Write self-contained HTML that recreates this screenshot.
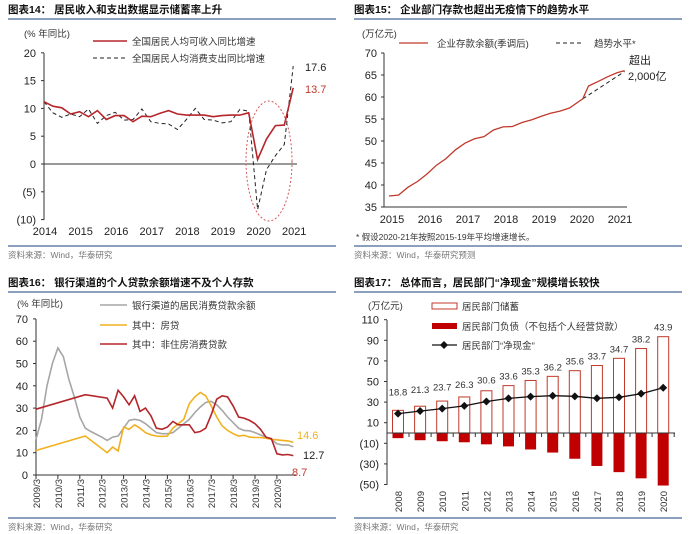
<!DOCTYPE html>
<html><head><meta charset="utf-8"><style>
body{margin:0;background:#fff}
svg{display:block;font-family:"Liberation Sans","Noto Sans CJK SC",sans-serif}
.t{font-size:10.5px;font-weight:bold;fill:#111}
.a{font-size:11px;fill:#222}
.l{font-size:9.5px;fill:#333}
.s{font-size:8.5px;fill:#777}
</style></head><body>
<svg id="c" width="692" height="534" viewBox="0 0 692 534"></svg>
<script>
// Panel 14
const p14Quarters = 29; // 2014Q1..2021Q1
const p14Income = [11.2,10.4,10.1,9.0,9.4,8.5,9.6,8.0,8.7,8.7,7.6,8.6,8.5,9.1,9.6,9.0,8.8,8.8,8.8,8.5,8.7,8.8,8.8,9.2,0.8,4.5,6.9,7.0,13.7];
const p14Spend = [11.2,9.2,8.4,9.0,8.5,9.9,7.3,8.7,9.3,7.9,8.0,9.9,7.6,7.3,7.2,6.2,8.0,10.0,8.0,7.9,7.4,7.6,9.8,9.5,-8.2,-1.0,1.5,3.5,17.6];
const p14YTicks = [20,15,10,5,0,-5,-10];
const p14Years = [2014,2015,2016,2017,2018,2019,2020,2021];
// Panel 15
const p15T = [2015,2015.25,2015.5,2015.75,2016,2016.25,2016.5,2016.75,2017,2017.25,2017.5,2017.75,2018,2018.25,2018.5,2018.75,2019,2019.25,2019.5,2019.75,2020,2020.1,2020.25,2020.5,2020.75,2021,2021.2];
const p15Dep = [37.5,37.7,39.5,40.8,42.5,44.5,46,48,49.5,50.5,51,52.5,53.2,53.3,54.2,54.8,55.6,56.3,56.8,57.5,59,59.6,62.5,63.5,64.6,65.5,66];
const p15TrendT = [2020.1,2021.2];
const p15Trend = [59.6,65.8];
const p15YTicks = [70,65,60,55,50,45,40,35];
const p15Years = [2015,2016,2017,2018,2019,2020,2021];
// Panel 16
const p16TG = [2009,2009.25,2009.5,2009.75,2010,2010.25,2010.5,2010.75,2011,2011.25,2011.5,2012,2012.25,2012.5,2012.75,2013,2013.25,2013.5,2013.75,2014,2014.25,2014.5,2014.75,2015,2015.25,2015.5,2015.75,2016,2016.25,2016.5,2016.75,2017,2017.25,2017.5,2017.75,2018,2018.25,2018.5,2018.75,2019,2019.25,2019.5,2019.75,2020,2020.25,2020.5,2020.75];
const p16Total = [16,25,40,50,57,53,43,35,26,21,19.5,17,15.5,17,17.5,21,24.5,25,24.5,23,21,19,18.5,18.5,19,21,23,25,28,30.5,32.5,33,31.5,29,26,23.5,21,20,19.8,19,18,17,16,14,13.5,13.5,12.7];
const p16T = [2009,2011.25,2012.25,2012.5,2012.75,2013,2013.25,2013.5,2013.75,2014,2014.25,2014.5,2014.75,2015,2015.25,2015.5,2015.75,2016,2016.25,2016.5,2016.75,2017,2017.25,2017.5,2017.75,2018,2018.25,2018.5,2018.75,2019,2019.25,2019.5,2019.75,2020,2020.25,2020.5,2020.75];
const p16House = [11,17.5,10,12.5,10.8,21.5,20.5,22.5,21,19,18,17.5,17.3,17.5,21,23,25,32,35,37,35.5,31,26,22,20,18.5,17.5,17.8,17,16.8,16.8,16.5,16,15.8,15.5,15.3,14.6];
const p16NonHouse = [29.5,36,34.5,30,38,35,31.5,35.5,28.5,30,26.5,21,20.5,21.5,24,22.5,22.5,22.5,19,19.5,21,27,34,35.5,35,31,26,25.5,24.5,23,20.5,17,16.3,9.5,9,9.2,8.7];
const p16YTicks = [70,60,50,40,30,20,10,0];
const p16XLabels = ["2009/3","2010/3","2011/3","2012/3","2013/3","2014/3","2015/3","2016/3","2017/3","2018/3","2019/3","2020/3"];
// Panel 17
const p17Years = ["2008","2009","2010","2011","2012","2013","2014","2015","2016","2017","2018","2019","2020"];
const p17Savings = [22,26,31,35,41,46,51,55,60.5,65.5,72.5,82,93.5];
const p17Debt = [-5,-7,-8,-9,-11,-13,-16,-19,-25,-32,-38,-44,-51];
const p17Net = [18.8,21.3,23.7,26.3,30.6,33.6,35.3,36.2,35.6,33.7,34.7,38.2,43.9];
const p17YTicks = [110,90,70,50,30,10,-10,-30,-50];

const svg = document.getElementById('c');
const NS = 'http://www.w3.org/2000/svg';
function el(tag, at, txt){const e=document.createElementNS(NS,tag);for(const k in at)e.setAttribute(k,at[k]);if(txt!==undefined)e.textContent=txt;svg.appendChild(e);return e;}
function fmt(v){return v<0?'('+(-v)+')':String(v);}
function path(xs,ys,fx,fy){return xs.map((x,i)=>(i?'L':'M')+fx(x).toFixed(1)+','+fy(ys[i]).toFixed(1)).join('');}

function header(x0,y,txt,name){
  const t=el('text',{x:x0+8,y:y,class:'t'},txt);
  
  
  const ln=el('line',{x1:x0+8,x2:x0+336,y1:y+6,y2:y+6,stroke:'#8aa0bd','stroke-width':2});
  
  
}
function footer(x0,y,txt,name){
  const ln=el('line',{x1:x0+8,x2:x0+336,y1:y,y2:y,stroke:'#8aa0bd','stroke-width':2});
  
  
  const t=el('text',{x:x0+8,y:y+12,class:'s'},txt);
  
  
}

// ---- Panel 14
(function(){
  header(0,13,'图表14：  居民收入和支出数据显示储蓄率上升','p14-title');
  const fx=i=>44+i*8.9, fy=v=>164-v*5.56;
  let ax=el('line',{x1:44,x2:44,y1:53,y2:220,stroke:'#333'});
  
  
  ax=el('line',{x1:44,x2:297,y1:164,y2:164,stroke:'#333'});
  
  
  p14YTicks.forEach(v=>{
    const t=el('text',{x:36,y:fy(v)+4,'text-anchor':'end',class:'a'},fmt(v));
    
    
    el('line',{x1:41,x2:44,y1:fy(v),y2:fy(v),stroke:'#333'});
  });
  p14Years.forEach((y,i)=>{
    const t=el('text',{x:fx(i*4)+1,y:235,'text-anchor':'middle',class:'a'},y);
    
    
  });
  const idx=p14Income.map((_,i)=>i);
  let p=el('path',{d:path(idx,p14Spend,fx,fy),fill:'none',stroke:'#222','stroke-width':1,'stroke-dasharray':'4,3'});
  
  
  p=el('path',{d:path(idx,p14Income,fx,fy),fill:'none',stroke:'#b5262b','stroke-width':1.6});
  
  
  const e=el('ellipse',{cx:269,cy:161,rx:23,ry:60,fill:'none',stroke:'#d45a5a','stroke-dasharray':'2,2'});
  
  
  el('line',{x1:93,x2:127,y1:41,y2:41,stroke:'#b5262b','stroke-width':1.6});
  let t=el('text',{x:132,y:45,class:'l'},'全国居民人均可收入同比增速');
  
  
  el('line',{x1:93,x2:127,y1:58,y2:58,stroke:'#222','stroke-dasharray':'4,3'});
  t=el('text',{x:132,y:62,class:'l'},'全国居民人均消费支出同比增速');
  
  
  t=el('text',{x:24,y:37,class:'l'},'(% 年同比)');
  
  
  t=el('text',{x:305,y:71,class:'a',fill:'#333'},p14Spend[p14Spend.length-1]);
  
  
  t=el('text',{x:305,y:93,class:'a',style:'fill:#c0392b'},p14Income[p14Income.length-1]);
  
  
  footer(0,246,'资料来源：Wind，华泰研究','p14-source');
})();

// ---- Panel 15
(function(){
  header(346,13,'图表15：  企业部门存款也超出无疫情下的趋势水平','p15-title');
  const fx=t=>389+(t-2015)*38, fy=v=>53+(70-v)*4.4;
  let ax=el('line',{x1:384,x2:384,y1:53,y2:207,stroke:'#333'});
  
  
  ax=el('line',{x1:384,x2:627,y1:207,y2:207,stroke:'#333'});
  
  
  p15YTicks.forEach(v=>{
    const t=el('text',{x:377,y:fy(v)+4,'text-anchor':'end',class:'a'},v);
    
    
    el('line',{x1:381,x2:384,y1:fy(v),y2:fy(v),stroke:'#333'});
  });
  p15Years.forEach(y=>{
    const t=el('text',{x:fx(y)+3,y:223,'text-anchor':'middle',class:'a'},y);
    
    
  });
  let p=el('path',{d:path(p15TrendT,p15Trend,fx,fy),fill:'none',stroke:'#222','stroke-dasharray':'4,3'});
  
  
  p=el('path',{d:path(p15T,p15Dep,fx,fy),fill:'none',stroke:'#c0392b','stroke-width':1.3});
  
  
  let t=el('text',{x:362,y:37,class:'l'},'(万亿元)');
  
  
  el('line',{x1:399,x2:428,y1:43,y2:43,stroke:'#c0392b','stroke-width':1.3});
  t=el('text',{x:437,y:47,class:'l'},'企业存款余额(季调后)');
  
  
  el('line',{x1:556,x2:584,y1:43,y2:43,stroke:'#222','stroke-dasharray':'4,3'});
  t=el('text',{x:594,y:47,class:'l'},'趋势水平*');
  
  
  t=el('text',{x:629,y:64,class:'a'},'超出');
  
  
  t=el('text',{x:628,y:80,class:'a'},'2,000亿');
  
  
  t=el('text',{x:356,y:240,class:'s',style:'fill:#333'},'* 假设2020-21年按照2015-19年平均增速增长。');
  
  
  footer(346,246,'资料来源：Wind，华泰研究预测','p15-source');
})();

// ---- Panel 16
(function(){
  header(0,286,'图表16：  银行渠道的个人贷款余额增速不及个人存款','p16-title');
  const fx=t=>36+(t-2009)*21.9, fy=v=>475-v*2.23;
  let ax=el('line',{x1:36,x2:36,y1:319,y2:475,stroke:'#333'});
  
  
  ax=el('line',{x1:36,x2:296,y1:475,y2:475,stroke:'#333'});
  
  
  p16YTicks.forEach(v=>{
    const t=el('text',{x:28,y:fy(v)+4,'text-anchor':'end',class:'a'},v);
    
    
    el('line',{x1:33,x2:36,y1:fy(v),y2:fy(v),stroke:'#333'});
  });
  p16XLabels.forEach((s,i)=>{
    const x=fx(2009+i);
    el('line',{x1:x,x2:x,y1:475,y2:479,stroke:'#333'});
    const t=el('text',{x:x+4,y:479,'text-anchor':'end',class:'l',transform:'rotate(-90 '+(x+4)+' 479)'},s);
    
    
  });
  let p=el('path',{d:path(p16TG,p16Total,fx,fy),fill:'none',stroke:'#a6a6a6','stroke-width':1.6});
  
  
  p=el('path',{d:path(p16T,p16House,fx,fy),fill:'none',stroke:'#f2b01e','stroke-width':1.6});
  
  
  p=el('path',{d:path(p16T,p16NonHouse,fx,fy),fill:'none',stroke:'#b5262b','stroke-width':1.6});
  
  
  let t=el('text',{x:17,y:307,class:'l'},'(% 年同比)');
  
  
  const leg=[['#a6a6a6','银行渠道的居民消费贷款余额',305],['#f2b01e','其中：房贷',325],['#b5262b','其中：非住房消费贷款',344]];
  leg.forEach(l=>{
    el('line',{x1:100,x2:127,y1:l[2],y2:l[2],stroke:l[0],'stroke-width':1.6});
    const tt=el('text',{x:132,y:l[2]+4,class:'l'},l[1]);
    
    
  });
  t=el('text',{x:297,y:439,class:'a',style:'fill:#f2b01e'},p16House[p16House.length-1]);
  
  
  t=el('text',{x:303,y:459,class:'a'},p16Total[p16Total.length-1]);
  
  
  t=el('text',{x:292,y:476,class:'a',style:'fill:#c0392b'},p16NonHouse[p16NonHouse.length-1]);
  
  
  footer(0,518,'资料来源：Wind，华泰研究','p16-source');
})();

// ---- Panel 17
(function(){
  header(346,286,'图表17：  总体而言，居民部门“净现金”规模增长较快','p17-title');
  const fx=i=>398+i*22.1, fy=v=>433-v*1.03;
  let ax=el('line',{x1:387,x2:387,y1:320,y2:485,stroke:'#333'});
  
  
  p17YTicks.forEach(v=>{
    const t=el('text',{x:379,y:fy(v)+4,'text-anchor':'end',class:'a'},fmt(v));
    
    
    el('line',{x1:384,x2:387,y1:fy(v),y2:fy(v),stroke:'#333'});
  });
  p17Years.forEach((y,i)=>{
    const x=fx(i);
    const r1=el('rect',{x:x-5.5,y:fy(p17Savings[i]),width:11,height:fy(0)-fy(p17Savings[i]),fill:'#fff',stroke:'#c0392b','stroke-width':1});
    
    
    const r2=el('rect',{x:x-5.5,y:fy(0),width:11,height:fy(p17Debt[i])-fy(0),fill:'#c00000'});
    
    
    el('line',{x1:x+11,x2:x+11,y1:433,y2:437,stroke:'#333'});
    const t=el('text',{x:x+4,y:491,'text-anchor':'end',class:'l',transform:'rotate(-90 '+(x+4)+' 491)'},y);
    
    
    const lb=el('text',{x:x,y:Math.min(fy(p17Savings[i])-6,fy(p17Net[i])-18),'text-anchor':'middle',class:'l'},p17Net[i]);
    
    
  });
  ax=el('line',{x1:387,x2:675,y1:433,y2:433,stroke:'#333'});
  
  
  const idx=p17Net.map((_,i)=>i);
  const p=el('path',{d:path(idx,p17Net,fx,fy),fill:'none',stroke:'#111','stroke-width':1.3});
  
  
  p17Net.forEach((v,i)=>{
    const x=fx(i),y=fy(v);
    const d=el('path',{d:`M${x},${y-4}L${x+4},${y}L${x},${y+4}L${x-4},${y}Z`,fill:'#111'});
    
    
  });
  let t=el('text',{x:368,y:309,class:'l'},'(万亿元)');
  
  
  el('rect',{x:432,y:303,width:25,height:6,fill:'#fff',stroke:'#c0392b'});
  t=el('text',{x:462,y:310,class:'l'},'居民部门储蓄');
  
  
  el('rect',{x:432,y:323,width:25,height:6,fill:'#c00000'});
  t=el('text',{x:462,y:330,class:'l'},'居民部门负债（不包括个人经营贷款）');
  
  
  el('line',{x1:432,x2:457,y1:345,y2:345,stroke:'#111','stroke-width':1.3});
  el('path',{d:'M444,341L448,345L444,349L440,345Z',fill:'#111'});
  t=el('text',{x:462,y:349,class:'l'},'居民部门“净现金”');
  
  
  footer(346,518,'资料来源：Wind，华泰研究','p17-source');
})();
</script>
</body></html>
